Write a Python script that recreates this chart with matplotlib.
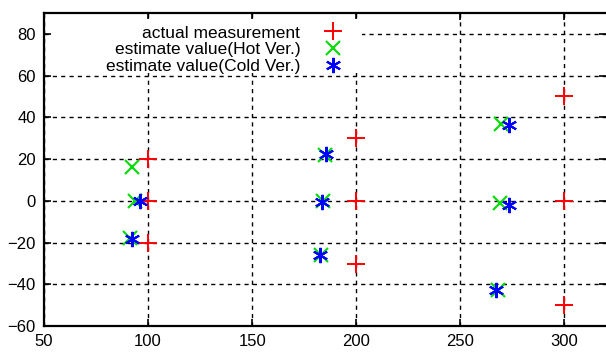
import matplotlib
matplotlib.use('Agg')
import matplotlib.pyplot as plt
from matplotlib.patches import Rectangle

plt.rcParams['font.family'] = ['Liberation Sans', 'DejaVu Sans']

# actual measurement
actual_x = [100, 100, 100, 200, 200, 200, 300, 300, 300]
actual_y = [20, 0, -20, 30, 0, -30, 50, 0, -50]

# estimate value (Hot Ver.)
hot_x = [92.5, 93.5, 91.5, 185, 184, 183, 269.5, 269, 268]
hot_y = [16, 0, -18, 22, 0, -26, 37, -1, -42.5]

# estimate value (Cold Ver.)
cold_x = [96, 92.5, 185.5, 183.5, 182.5, 273.5, 273.5, 267]
cold_y = [0, -18.3, 22.5, -0.5, -26, 36.5, -2, -42.5]

W, H = 606, 360
fig = plt.figure(figsize=(W / 100, H / 100), dpi=100)
ax = fig.add_axes([0.0726, 0.094, 0.9274, 0.87])

ax.plot(actual_x, actual_y, linestyle='none', marker='+', color='#ff0000',
        markersize=13, markeredgewidth=1.4, label='actual measurement')
ax.plot(hot_x, hot_y, linestyle='none', marker='x', color='#00dd00',
        markersize=10, markeredgewidth=1.5, label='estimate value(Hot Ver.)')
ax.plot(cold_x, cold_y, linestyle='none', marker=(6, 2, 0), color='#0000ff',
        markersize=11, markeredgewidth=1.5, label='estimate value(Cold Ver.)')

ax.set_xlim(50, 320)
ax.set_ylim(-60, 90)
ax.set_xticks([50, 100, 150, 200, 250, 300])
ax.set_yticks([-60, -40, -20, 0, 20, 40, 60, 80])

ax.grid(True, color='black', linestyle=(0, (3, 3)), linewidth=1.0)
ax.tick_params(direction='in', top=True, right=True, length=5, width=1.2,
               labelsize=12, pad=6)
for s in ['left', 'bottom', 'top']:
    ax.spines[s].set_linewidth(1.6)
ax.spines['right'].set_visible(False)

# white key area hiding the grid, like gnuplot's key box
ax.add_patch(Rectangle((51 / W, 1 - 73 / H), (362 - 51) / W, (73 - 19) / H,
                       transform=fig.transFigure, facecolor='white',
                       edgecolor='none', zorder=1.8))

leg = ax.legend(loc='upper right', bbox_to_anchor=(361 / W, 1 - 15 / H),
                bbox_transform=fig.transFigure, markerfirst=False,
                frameon=False, fontsize=12.5, handletextpad=0.9, labelspacing=0.08,
                borderpad=0.1)
for t in leg.get_texts():
    t.set_ha('right')
leg._legend_box.align = 'right'

fig.savefig('out.png', dpi=100)
